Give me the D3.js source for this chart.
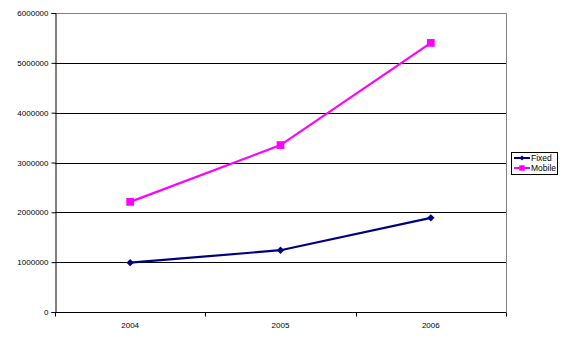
<!DOCTYPE html>
<html>
<head>
<meta charset="utf-8">
<script src="https://cdn.jsdelivr.net/npm/d3@7"></script>
<style>
  body { margin:0; background:#fff; }
  text { font-family: Arial, "Liberation Sans", sans-serif; font-size:8px; fill:#000; }
</style>
</head>
<body>
<div id="plot"></div>
<script>
// chart data
var years = ['2004','2005','2006'];
var fixed = [990000, 1240000, 1890000];
var mobile = [2210000, 3350000, 5400000];
var yTicks = [0,1000000,2000000,3000000,4000000,5000000,6000000];

var W = 569, H = 343;
var margin = {t:13,r:63,b:31,l:55};
var width = W-margin.l-margin.r,
	height = H-margin.t-margin.b;

var svg = d3.select('#plot')
	.append('svg')
	.attr('width',W)
	.attr('height',H);

var plot = svg.append('g')
	.attr('transform','translate('+margin.l+','+margin.t+')');

var scaleX = d3.scaleBand().domain(years).range([0,width]);
var scaleY = d3.scaleLinear().domain([0,6000000]).range([height,0]);

// gridlines
plot.selectAll('.grid')
	.data(yTicks.slice(1))
	.enter()
	.append('line')
	.attr('x1',0).attr('x2',width)
	.attr('y1',function(d){return Math.round(scaleY(d))+0.5})
	.attr('y2',function(d){return Math.round(scaleY(d))+0.5})
	.attr('stroke','#000').attr('stroke-width',1);

// gray frame top/right
plot.append('path')
	.attr('d','M0.5,0.5H'+(width+0.5)+'V'+(height+0.5))
	.attr('fill','none').attr('stroke','#808080');

// y axis
var yAxis = d3.axisLeft(scaleY).tickValues(yTicks).tickSize(4).tickPadding(3).tickFormat(d3.format('d'));
plot.append('g').attr('class','axis')
	.attr('transform','translate(0.5,0)')
	.call(yAxis)
	.call(function(g){
		g.select('.domain').attr('stroke','#000');
		g.selectAll('.tick line').attr('stroke','#000');
		g.selectAll('text').style('font-size','8px').style('font-family','Arial, "Liberation Sans", sans-serif');
	});

// x axis with ticks between categories
var xAxisG = plot.append('g').attr('transform','translate(0,'+(height+0.5)+')');
xAxisG.append('line').attr('x1',0).attr('x2',width).attr('stroke','#000');
var bounds = years.map(function(d){return scaleX(d)}).concat([width]);
xAxisG.selectAll('.xt').data(bounds).enter().append('line')
	.attr('x1',function(d){return Math.round(d)+0.5}).attr('x2',function(d){return Math.round(d)+0.5})
	.attr('y1',0).attr('y2',4).attr('stroke','#000');
xAxisG.selectAll('.xl').data(years).enter().append('text')
	.attr('x',function(d){return scaleX(d)+scaleX.bandwidth()/2})
	.attr('y',15)
	.attr('text-anchor','middle')
	.text(function(d){return d});

var line = d3.line()
	.x(function(d,i){return scaleX(years[i])+scaleX.bandwidth()/2})
	.y(function(d){return scaleY(d)});

var series = [
	{name:'Fixed', values:fixed, color:'#000080', marker:'diamond'},
	{name:'Mobile', values:mobile, color:'#FF00FF', marker:'square'}
];

function marker(s, size){
	// diamond = square turned 45 degrees
	return d3.symbol().type(d3.symbolSquare).size(s.marker=='diamond'?size*0.45:size)();
}

series.forEach(function(s){
	plot.append('path')
		.attr('d',line(s.values))
		.attr('fill','none')
		.attr('stroke',s.color)
		.attr('stroke-width',2.2);
	plot.selectAll(null).data(s.values).enter().append('path')
		.attr('transform',function(d,i){
			return 'translate('+(scaleX(years[i])+scaleX.bandwidth()/2)+','+scaleY(d)+')'+(s.marker=='diamond'?' rotate(45)':'')})
		.attr('d',marker(s,60))
		.attr('fill',s.color);
});

// legend
var lg = svg.append('g').attr('transform','translate(511,152)');
lg.append('rect').attr('x',0.5).attr('y',0.5).attr('width',46).attr('height',22)
	.attr('fill','#fff').attr('stroke','#000');
series.forEach(function(s,i){
	var yy = 6+i*10;
	lg.append('line').attr('x1',3).attr('x2',19).attr('y1',yy).attr('y2',yy)
		.attr('stroke',s.color).attr('stroke-width',2);
	lg.append('path')
		.attr('transform','translate(11,'+yy+')'+(s.marker=='diamond'?' rotate(45)':''))
		.attr('d',marker(s,30))
		.attr('fill',s.color);
	lg.append('text').attr('x',20).attr('y',yy+3).style('font-size','8.5px').text(s.name);
});
</script>
</body>
</html>
